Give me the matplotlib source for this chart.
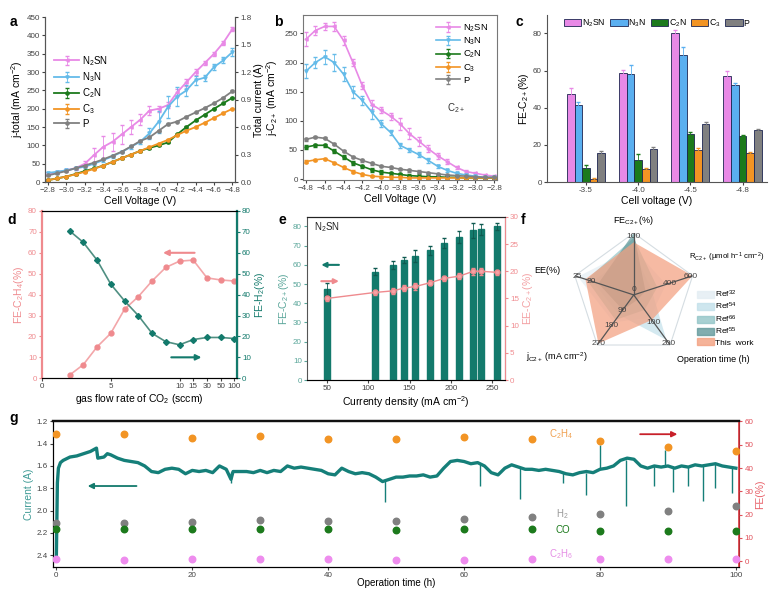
import numpy as np
import matplotlib
matplotlib.use("Agg")
import matplotlib.pyplot as plt
from matplotlib.patches import Patch

plt.rcParams['font.family'] = ['Liberation Sans', 'DejaVu Sans']
plt.rcParams['mathtext.fontset'] = 'custom'
plt.rcParams['mathtext.rm'] = 'Liberation Sans'
plt.rcParams['mathtext.it'] = 'Liberation Sans:italic'
plt.rcParams['mathtext.default'] = 'regular'
plt.rcParams['font.size'] = 7
plt.rcParams['axes.linewidth'] = 0.8
plt.rcParams['xtick.major.size'] = 2.5
plt.rcParams['ytick.major.size'] = 2.5
plt.rcParams['xtick.major.pad'] = 1.2
plt.rcParams['ytick.major.pad'] = 1.2
plt.rcParams['xtick.labelsize'] = 5.8
plt.rcParams['ytick.labelsize'] = 5.8
plt.rcParams['xtick.color'] = '#444444'
plt.rcParams['ytick.color'] = '#444444'
plt.rcParams['axes.labelpad'] = 1.5

PINK = '#e889e6'
BLUE = '#64bbe9'
GREEN = '#1c7a1c'
ORANGE = '#f29424'
GRAY = '#808080'
CORAL = '#ef8a8e'
TEAL = '#137a6c'
RED = '#d9343c'

# ---- panel a : total current density vs cell voltage
volt_a = [-2.8, -2.9, -3.0, -3.1, -3.2, -3.3, -3.4, -3.5, -3.6, -3.7, -3.8,
          -3.9, -4.0, -4.1, -4.2, -4.3, -4.4, -4.5, -4.6, -4.7, -4.8]
n2sn_a = [22, 27, 32, 38, 50, 74, 96, 110, 130, 150, 170, 195, 200, 210, 245, 272, 300, 325, 350, 380, 418]
n2sn_a_err = [3, 3, 3, 4, 8, 20, 30, 25, 25, 20, 15, 12, 8, 8, 10, 10, 8, 6, 6, 6, 6]
n3n_a = [25, 28, 32, 37, 42, 50, 60, 70, 82, 96, 110, 133, 165, 205, 233, 250, 278, 285, 314, 332, 355]
n3n_a_err = [3, 3, 3, 3, 3, 3, 4, 4, 4, 5, 6, 15, 30, 30, 25, 15, 12, 8, 8, 8, 12]
c2n_a = [5, 10, 15, 22, 30, 37, 45, 55, 65, 75, 85, 93, 100, 108, 130, 150, 168, 184, 200, 215, 230]
c3_a = [5, 10, 15, 21, 28, 36, 45, 55, 65, 75, 85, 95, 105, 115, 128, 140, 150, 162, 175, 188, 200]
p_a = [18, 24, 30, 38, 45, 53, 62, 72, 83, 97, 112, 122, 140, 158, 165, 178, 190, 202, 215, 230, 248]

# ---- panel b : partial current density of C2+
volt_b = [-4.8, -4.7, -4.6, -4.5, -4.4, -4.3, -4.2, -4.1, -4.0, -3.9, -3.8,
          -3.7, -3.6, -3.5, -3.4, -3.3, -3.2, -3.1, -3.0, -2.9, -2.8]
n2sn_b = [240, 255, 262, 262, 238, 200, 160, 128, 118, 108, 95, 78, 65, 52, 40, 30, 20, 13, 10, 7, 5]
n2sn_b_err = [12, 8, 6, 8, 8, 6, 6, 8, 5, 6, 10, 10, 8, 6, 5, 4, 3, 3, 3, 2, 2]
n3n_b = [185, 200, 210, 200, 180, 150, 135, 115, 95, 80, 58, 50, 42, 32, 22, 15, 10, 7, 5, 3, 3]
n3n_b_err = [12, 10, 12, 14, 12, 10, 8, 12, 6, 5, 4, 4, 4, 4, 3, 3, 2, 2, 2, 2, 2]
c2n_b = [55, 58, 58, 48, 38, 28, 22, 16, 12, 10, 8, 6, 5, 4, 4, 3, 3, 2, 2, 2, 2]
c3_b = [30, 33, 35, 28, 20, 13, 8, 5, 4, 3, 3, 2, 2, 2, 2, 2, 2, 2, 2, 2, 2]
p_b = [68, 72, 70, 60, 48, 38, 32, 27, 22, 20, 17, 15, 13, 11, 9, 7, 6, 5, 4, 3, 3]

# ---- panel c : FE-C2+ bars
volt_c = ['-3.5', '-4.0', '-4.5', '-4.8']
fe_c = {
    'N$_2$SN': [47.5, 58.5, 80.0, 57.0],
    'N$_3$N': [41.5, 58.0, 68.5, 52.0],
    'C$_2$N': [7.5, 12.0, 26.0, 25.0],
    'C$_3$': [1.5, 7.0, 17.5, 15.5],
    'P': [15.5, 18.0, 31.0, 28.0],
}
fe_c_err = {
    'N$_2$SN': [3, 2, 2, 3],
    'N$_3$N': [1.5, 5, 4, 1.5],
    'C$_2$N': [1.5, 3, 1, 0.3],
    'C$_3$': [0.5, 0.5, 1, 0.5],
    'P': [1, 1, 1.5, 0.5],
}

# ---- panel d : flow rate
flow_d = [2, 3, 4, 5, 6, 7, 8, 9, 10, 15, 30, 50, 100]
fe_c2h4_d = [1.5, 6.5, 15, 21.5, 33, 39, 46.5, 53, 56, 56.5, 48, 47, 46.5]
fe_h2_d = [70.5, 65, 56.5, 45, 37, 30, 21.5, 17.5, 16, 18.5, 19.5, 19.5, 19]

# ---- panel e : current density
jd_e = [50, 108, 130, 143, 157, 175, 192, 210, 227, 236, 256]
fe_e = [47.5, 56.5, 60, 62.5, 64.5, 67.5, 71.5, 74.5, 78, 78.5, 80]
fe_e_err = [3, 2, 2, 1.5, 3, 2.5, 2.5, 3, 4, 3, 2]
ee_e = [15.0, 16.1, 16.4, 16.9, 17.2, 17.9, 18.7, 19.1, 20.0, 20.0, 19.8]
ee_e_err = [0.5, 0.5, 0.6, 0.6, 0.6, 0.5, 0.5, 0.5, 0.6, 0.6, 0.5]

# ---- panel f : radar comparison (fraction of axis maximum)
radar_axes = ['FE', 'R', 'OT', 'J', 'EE']
radar_refs = ['Ref$^{32}$', 'Ref$^{54}$', 'Ref$^{66}$', 'Ref$^{55}$', 'This  work']
radar_vals = [
    [0.75, 0.55, 0.45, 0.55, 0.95],
    [0.70, 0.30, 0.90, 0.40, 0.70],
    [0.92, 0.40, 0.30, 0.50, 0.80],
    [1.00, 0.20, 0.10, 0.30, 0.60],
    [0.85, 1.00, 0.50, 0.97, 0.82],
]
radar_colors = ['#e3edf3', '#c2e0ea', '#93c5c7', '#62999b', '#f3a080']

# ---- panel g : stability test
cur_t = [0, 0.15, 0.3, 0.6, 1, 2, 3, 4, 5, 5.9, 6.1, 7, 7.5, 8, 9, 10, 11, 12, 13, 14, 15,
         16, 17, 18, 19, 20, 21, 22, 23, 24, 25, 25.7, 26, 27, 28, 29, 30, 31, 32, 33,
         34, 35, 36, 37, 38, 39, 40, 41, 42, 43, 44, 45, 46, 47, 48, 49, 50, 51, 52,
         53, 54, 55, 56, 57, 58, 59, 60, 61, 62, 63, 64, 65, 66, 67, 68, 69, 70, 71,
         72, 73, 74, 75, 76, 77, 78, 79, 80, 81, 82, 83, 84, 85, 86, 87, 88, 89, 90,
         91, 92, 93, 94, 95, 96, 97, 98, 99, 100]
cur_a = [2.40, 1.75, 1.62, 1.57, 1.55, 1.52, 1.51, 1.49, 1.47, 1.44, 1.53, 1.52, 1.49, 1.50,
         1.53, 1.55, 1.56, 1.57, 1.60, 1.65, 1.66, 1.63, 1.62, 1.63, 1.67, 1.64, 1.65,
         1.64, 1.66, 1.60, 1.63, 1.72, 1.65, 1.65, 1.65, 1.66, 1.64, 1.66, 1.64, 1.65,
         1.60, 1.62, 1.61, 1.62, 1.63, 1.64, 1.67, 1.68, 1.62, 1.65, 1.67, 1.66, 1.67,
         1.70, 1.74, 1.72, 1.70, 1.70, 1.69, 1.69, 1.68, 1.70, 1.69, 1.62, 1.56, 1.55,
         1.56, 1.58, 1.57, 1.60, 1.66, 1.68, 1.62, 1.59, 1.61, 1.63, 1.63, 1.64, 1.63,
         1.64, 1.65, 1.67, 1.68, 1.66, 1.65, 1.66, 1.63, 1.62, 1.60, 1.55, 1.53, 1.54,
         1.60, 1.62, 1.60, 1.61, 1.60, 1.62, 1.60, 1.61, 1.59, 1.60, 1.59, 1.58, 1.60,
         1.61, 1.62]
spike_t = [25.7, 48.4, 62.3, 68.2, 74.5, 78.0, 80.0, 83.9, 88.0, 89.5, 90.8, 93.0, 95.2, 97.0, 99.5]
spike_lo = [1.65, 1.72, 1.58, 1.62, 1.66, 1.66, 1.62, 1.55, 1.60, 1.60, 1.60, 1.60, 1.60, 1.58, 1.61]
spike_hi = [1.75, 1.92, 1.78, 1.90, 1.75, 1.86, 1.41, 1.96, 1.78, 1.46, 1.83, 1.78, 1.91, 1.80, 1.84]

fe_t = [0, 10, 20, 30, 40, 50, 60, 70, 80, 90, 100]
fe_c2h4_g = [54.4, 54.7, 53.0, 53.7, 52.3, 52.3, 53.1, 52.3, 51.7, 49.2, 47.4]
fe_h2_g = [16.3, 16.5, 16.7, 17.6, 17.4, 17.4, 18.1, 18.8, 20.4, 21.6, 23.6]
fe_co_g = [13.7, 13.9, 13.7, 13.7, 13.7, 13.5, 13.7, 13.7, 13.1, 13.1, 12.8]
fe_c2h6_g = [0.8, 0.7, 0.8, 0.8, 0.8, 0.7, 0.7, 0.8, 0.8, 0.8, 0.8]

fig = plt.figure(figsize=(7.79, 5.91), dpi=100)


def style_spines(ax, color='#555555'):
    for s in ax.spines.values():
        s.set_color(color)


# ================= a
ax = fig.add_axes([0.058, 0.692, 0.244, 0.279])
series_a = [('N$_2$SN', n2sn_a, n2sn_a_err, PINK, '<'),
            ('N$_3$N', n3n_a, n3n_a_err, BLUE, 'v'),
            ('C$_2$N', c2n_a, None, GREEN, 'o'),
            ('C$_3$', c3_a, None, ORANGE, 'o'),
            ('P', p_a, None, GRAY, 'o')]
for name, ys, err, col, mk in series_a:
    ax.errorbar(volt_a, ys, yerr=err if err else [2] * len(ys), color=col, marker=mk, ms=2.3,
                lw=1.3, elinewidth=0.6, capsize=1.5, label=name)
ax.set_xlim(-2.77, -4.83)
ax.set_ylim(0, 450)
ax.set_xticks(np.round(np.arange(-2.8, -4.81, -0.2), 1))
ax.set_yticks(range(0, 451, 50))
ax.set_ylabel('j-total (mA cm$^{-2}$)', fontsize=7.5)
ax.set_xlabel('Cell Voltage (V)', fontsize=7.5)
ax.spines['top'].set_visible(False)
style_spines(ax)
ax.legend(loc='center left', bbox_to_anchor=(0.0, 0.55), frameon=False, fontsize=7,
          handlelength=2.6, labelspacing=0.25, handletextpad=0.3)
ax2 = ax.twinx()
ax2.set_ylim(0, 1.8)
ax2.set_yticks(np.arange(0, 1.81, 0.3))
ax2.set_yticklabels([f'{v:.1f}' for v in np.arange(0, 1.81, 0.3)])
ax2.set_ylabel('Total current (A)', fontsize=7.5, labelpad=2)
ax2.spines['top'].set_visible(False)
style_spines(ax2)

# ================= b
ax = fig.add_axes([0.389, 0.695, 0.249, 0.279])
series_b = [('N$_2$SN', n2sn_b, n2sn_b_err, PINK, '<'),
            ('N$_3$N', n3n_b, n3n_b_err, BLUE, 'v'),
            ('C$_2$N', c2n_b, [3] * 21, GREEN, 'o'),
            ('C$_3$', c3_b, [2] * 21, ORANGE, 'o'),
            ('P', p_b, [2] * 21, GRAY, 'o')]
for name, ys, err, col, mk in series_b:
    ax.errorbar(volt_b, ys, yerr=err, color=col, marker=mk, ms=2.3, lw=1.2,
                elinewidth=0.6, capsize=1.5, label=name)
ax.set_xlim(-4.83, -2.77)
ax.set_ylim(-2, 281)
ax.set_xticks(np.round(np.arange(-4.8, -2.79, 0.2), 1))
ax.set_yticks(range(0, 251, 50))
ax.set_ylabel('j-C$_{2+}$ (mA cm$^{-2}$)', fontsize=7.5, labelpad=3)
ax.set_xlabel('Cell Voltage (V)', fontsize=7.5)
style_spines(ax, '#777777')
ax.legend(loc='upper right', bbox_to_anchor=(1.0, 1.01), frameon=False, fontsize=6.8,
          handlelength=2.6, labelspacing=0.2, handletextpad=0.3)
ax.text(-3.3, 122, 'C$_{2+}$', fontsize=7, color='#333333', va='center')

# ================= c
ax = fig.add_axes([0.702, 0.692, 0.282, 0.283])
bar_cols = [PINK, '#5aaff0', GREEN, ORANGE, GRAY]
xs = np.arange(len(volt_c))
w = 0.146
for i, (name, col) in enumerate(zip(fe_c.keys(), bar_cols)):
    ax.bar(xs + (i - 2) * w, fe_c[name], w, yerr=fe_c_err[name], color=col,
           edgecolor='#1d2550', lw=0.6, error_kw=dict(elinewidth=0.6, capsize=1.5, ecolor=col),
           label=name)
ax.set_xticks(xs)
ax.set_xticklabels(volt_c)
ax.set_xlim(-0.75, 3.46)
ax.set_ylim(0, 90)
ax.set_yticks(range(0, 81, 20))
ax.set_ylabel('FE-C$_{2+}$(%)', fontsize=7.5)
ax.set_xlabel('Cell voltage (V)', fontsize=7.5)
ax.spines['top'].set_visible(False)
ax.spines['right'].set_visible(False)
style_spines(ax)
ax.legend(loc='upper center', bbox_to_anchor=(0.5, 1.03), ncol=5, frameon=False,
          fontsize=6.3, handlelength=2.0, handleheight=0.9, columnspacing=0.5,
          handletextpad=0.1)

# ================= d
knots_x = [-100, 0, 10, 15, 30, 50, 100, 1000]
knots_p = [-100, 0, 10, 11, 12, 13, 14, 32]


def fwd(x):
    return np.interp(x, knots_x, knots_p)


def inv(p):
    return np.interp(p, knots_p, knots_x)


ax = fig.add_axes([0.054, 0.360, 0.250, 0.283])
ax.set_xscale('function', functions=(fwd, inv))
ax.plot(flow_d, fe_c2h4_d, color='#f3a6a9', marker='o', ms=3.5, mfc=CORAL, mec=CORAL, lw=1.2)
ax.set_xlim(0, inv(14.17))
ax.set_ylim(0, 80)
ax.set_xticks([0, 5, 10, 15, 30, 50, 100])
ax.set_xticklabels(['0', '5', '10', '15', '30', '50', '100'])
ax.minorticks_off()
ax.set_yticks(range(0, 81, 10))
ax.tick_params(axis='y', colors=CORAL)
ax.set_ylabel('FE-C$_2$H$_4$(%)', color=CORAL, fontsize=7.5)
ax.set_xlabel('gas flow rate of CO$_2$ (sccm)', fontsize=7.5)
ax.spines['left'].set_color(CORAL)
ax.spines['left'].set_linewidth(1.6)
ax.spines['bottom'].set_color('#333333')
ax.annotate('', xy=(8.6, 60), xytext=(inv(11.3), 60),
            arrowprops=dict(arrowstyle='-|>', color=CORAL, lw=1.5, mutation_scale=8))
axr = ax.twinx()
axr.plot(flow_d, fe_h2_d, color='#4f8f82', marker='D', ms=3, mfc=TEAL, mec=TEAL, lw=1.2)
axr.set_ylim(0, 80)
axr.set_yticks(range(0, 81, 10))
axr.tick_params(axis='y', colors=TEAL)
axr.set_ylabel('FE-H$_2$(%)', color=TEAL, fontsize=7.5)
axr.spines['right'].set_color(TEAL)
axr.spines['right'].set_linewidth(1.6)
axr.spines['left'].set_visible(False)
axr.annotate('', xy=(inv(11.8), 10), xytext=(9.2, 10),
             arrowprops=dict(arrowstyle='-|>', color=TEAL, lw=1.5, mutation_scale=8))

# ================= e
ax = fig.add_axes([0.394, 0.357, 0.254, 0.276])
ax.bar(jd_e, fe_e, 7, yerr=fe_e_err, color=TEAL, edgecolor=TEAL,
       error_kw=dict(elinewidth=0.6, capsize=1.5, ecolor='#0e5a50'))
ax.set_xlim(26, 265)
ax.set_ylim(0, 85)
ax.set_xticks([50, 100, 150, 200, 250])
ax.set_yticks(range(0, 81, 10))
ax.tick_params(axis='y', colors='#5aa69a')
ax.set_ylabel('FE-C$_{2+}$(%)', color='#5aa69a', fontsize=7.5)
ax.set_xlabel('Currenty density (mA cm$^{-2}$)', fontsize=7.5)
ax.text(35, 78, 'N$_2$SN', fontsize=7, color='#222222')
ax.annotate('', xy=(40, 60), xytext=(68, 60),
            arrowprops=dict(arrowstyle='-|>', color=TEAL, lw=1.5, mutation_scale=7))
ax.annotate('', xy=(68, 51.5), xytext=(40, 51.5),
            arrowprops=dict(arrowstyle='-|>', color=CORAL, lw=1.5, mutation_scale=7))
style_spines(ax)
ax.spines['top'].set_color('#222222')
axr = ax.twinx()
axr.errorbar(jd_e, ee_e, yerr=ee_e_err, color=CORAL, marker='o', ms=3.5, lw=1.0,
             elinewidth=0.6, capsize=1.5, mfc='#f4a3a5', mec=CORAL)
axr.set_ylim(0, 30)
axr.set_yticks(range(0, 31, 5))
axr.tick_params(axis='y', colors='#f08c90')
axr.set_ylabel('EE-C$_{2+}$(%)', color='#f3a0a3', fontsize=7.5)
axr.spines['right'].set_color(CORAL)
axr.spines['top'].set_color('#222222')
axr.spines['left'].set_visible(False)

# ================= f
ax = fig.add_axes([0.734, 0.396, 0.159, 0.210], projection='polar')
ax.set_theta_offset(np.pi / 2)
ax.set_theta_direction(-1)
theta = np.deg2rad([0, 72, 144, 216, 288])
theta_c = np.append(theta, theta[0])
for vals, col, name in zip(radar_vals, radar_colors, radar_refs):
    alpha = 0.72 if name.startswith('This') else 0.7
    ax.fill(theta_c, vals + vals[:1], color=col, alpha=alpha, lw=0, label=name)
ax.plot(theta_c, [1] * 6, color='#d5dde2', lw=0.8)
for th in theta:
    ax.plot([th, th], [0, 1], color='#555555', lw=0.9)
ax.set_ylim(0, 1)
ax.axis('off')
tick_txt = [(theta[0], 0.95, '100'), (theta[1], 0.97, '600'), (theta[1], 0.62, '400'),
            (theta[2], 0.97, '200'), (theta[2], 0.55, '100'), (theta[3], 0.97, '270'),
            (theta[3], 0.62, '180'), (theta[3], 0.32, '90'), (theta[4], 0.95, '25'),
            (theta[4], 0.72, '20'), (theta[0], 0.08, '0')]
for th, r, s in tick_txt:
    ax.text(th, r, s, fontsize=6, color='#444444', ha='center', va='center')
ax.text(theta[0], 1.2, 'FE$_{C2+}$(%)', fontsize=6.5, ha='center', va='center')
fig.text(0.884, 0.553, 'R$_{C2+}$ (µmol h$^{-1}$ cm$^{-2}$)', fontsize=5.6, ha='left', va='bottom')
ax.text(theta[2], 1.2, 'Operation time (h)', fontsize=6.5, ha='left', va='top')
ax.text(theta[3], 1.25, 'j$_{C2+}$ (mA cm$^{-2}$)', fontsize=6.5, ha='right', va='center')
ax.text(theta[4], 1.25, 'EE(%)', fontsize=6.5, ha='right', va='center')
handles = [Patch(color=c, alpha=0.8) for c in radar_colors]
fig.legend(handles, radar_refs, loc='upper left', bbox_to_anchor=(0.885, 0.525), frameon=False,
           fontsize=6, handlelength=2.0, handleheight=0.9, labelspacing=0.15, handletextpad=0.2)

# ================= g
ax = fig.add_axes([0.068, 0.040, 0.881, 0.247])
ax.plot(cur_t, cur_a, color='#157f79', lw=2.4)
ax.vlines(spike_t, spike_lo, spike_hi, color='#157f79', lw=1.0)
ax.set_xlim(-0.5, 100.5)
ax.set_ylim(2.51, 1.2)
ax.set_xticks(range(0, 101, 20))
ax.set_yticks(np.arange(1.2, 2.41, 0.2))
ax.set_yticklabels([f'{v:.1f}' for v in np.arange(1.2, 2.41, 0.2)])
ax.set_ylabel('Current (A)', color='#3f9b96', fontsize=7.5)
ax.set_xlabel('Operation time (h)', fontsize=7, labelpad=-1)
ax.spines['top'].set_linewidth(1.6)
ax.spines['top'].set_color('#111111')
ax.annotate('', xy=(4.2, 1.78), xytext=(12.2, 1.78),
            arrowprops=dict(arrowstyle='-|>', color=TEAL, lw=1.3, mutation_scale=8))
axr = ax.twinx()
axr.scatter(fe_t, fe_c2h4_g, s=22, color=ORANGE, zorder=3)
axr.scatter(fe_t, fe_h2_g, s=22, color=GRAY, zorder=3)
axr.scatter(fe_t, fe_co_g, s=22, color=GREEN, zorder=3)
axr.scatter(fe_t, fe_c2h6_g, s=22, color='#ee8cee', zorder=3)
axr.set_ylim(-2.6, 59.5)
axr.set_yticks(range(0, 61, 10))
axr.tick_params(axis='y', colors='#e0505a')
axr.set_ylabel('FE(%)', color='#e86068', fontsize=7.5)
axr.spines['right'].set_color(RED)
axr.spines['right'].set_linewidth(1.2)
axr.spines['top'].set_linewidth(1.6)
axr.spines['top'].set_color('#111111')
axr.text(72.5, 53.3, 'C$_2$H$_4$', color='#f0a050', fontsize=7)
axr.text(73.5, 19.0, 'H$_2$', color='#999999', fontsize=7)
axr.text(73.5, 12.0, 'CO', color=GREEN, fontsize=7)
axr.text(72.5, 1.8, 'C$_2$H$_6$', color='#e58ee5', fontsize=7)
axr.annotate('', xy=(91.8, 54.5), xytext=(85.5, 54.5),
             arrowprops=dict(arrowstyle='-|>', color='#c8202a', lw=1.3, mutation_scale=8))

# panel letters
for x, y, s in [(0.012, 0.975, 'a'), (0.352, 0.975, 'b'), (0.662, 0.975, 'c'),
                (0.010, 0.640, 'd'), (0.358, 0.640, 'e'), (0.668, 0.640, 'f'),
                (0.012, 0.305, 'g')]:
    fig.text(x, y, s, fontsize=10, fontweight='bold', va='top')

fig.savefig('out.png', dpi=100)
